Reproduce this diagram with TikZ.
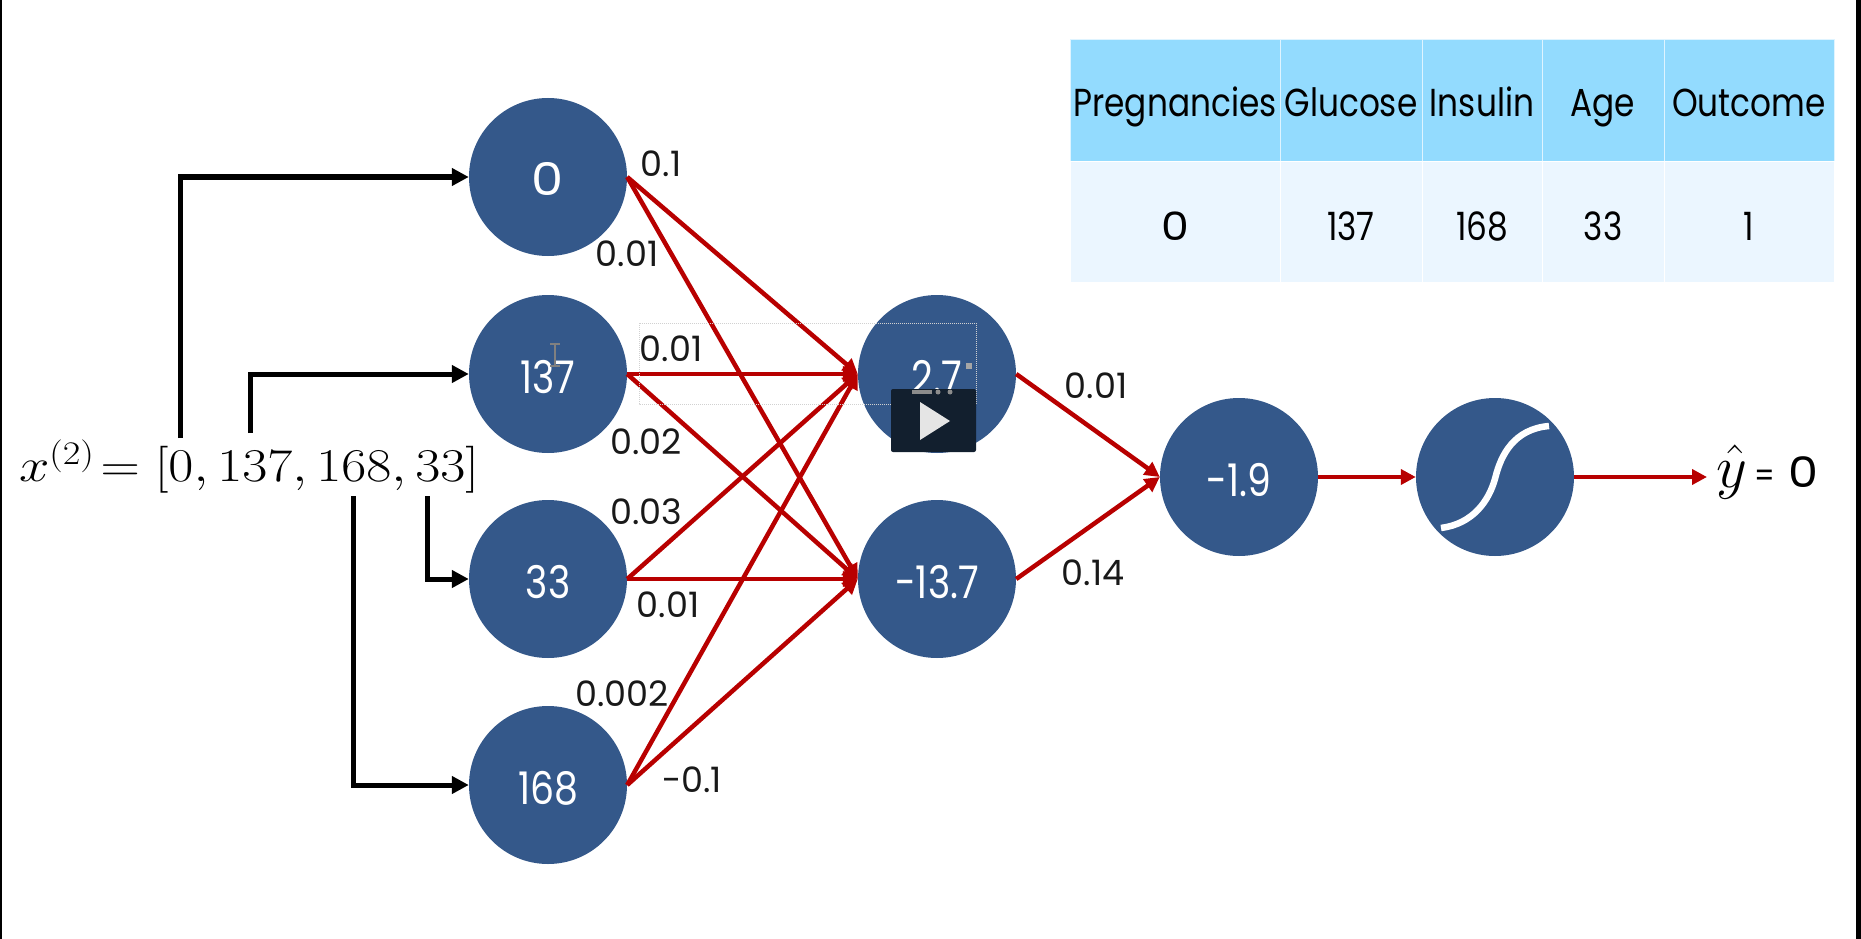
\documentclass[tikz,border=0pt]{standalone}
\usepackage{fix-cm}
\usepackage{fontspec}
\usetikzlibrary{arrows.meta}
\newfontfamily\labelfont[FakeStretch=0.84]{Poppins}
\newfontfamily\weightfont{Poppins}
\newcommand{\wzero}{\scalebox{1.35}[1]{0}}
\definecolor{nodeblue}{HTML}{34588A}
\definecolor{wirered}{HTML}{B80000}
\definecolor{headblue}{HTML}{93DBFE}
\definecolor{bodyblue}{HTML}{EBF6FF}
\definecolor{playdark}{HTML}{121F2E}
\tikzset{
  neuron/.style={circle, fill=nodeblue, text=white, minimum size=158pt, inner sep=0pt,
    text height=38pt, text depth=0pt, font=\labelfont\fontsize{45}{47}\selectfont},
  weight/.style={inner sep=0pt, text=black!90, font=\weightfont\fontsize{35}{37}\selectfont},
  headcell/.style={draw=white!70!headblue, line width=1pt, fill=headblue, minimum height=122pt,
    inner sep=0pt, text height=32pt, text depth=0pt, font=\labelfont\fontsize{39}{41}\selectfont},
  bodycell/.style={draw=white, line width=1pt, fill=bodyblue, minimum height=121pt,
    inner sep=0pt, text height=36pt, text depth=0pt, font=\labelfont\fontsize{39}{41}\selectfont},
  inwire/.style={line width=5pt, -{Triangle[length=17pt,width=17pt]}},
  redwire/.style={draw=wirered, line width=4.5pt, -{Triangle[length=15pt,width=15pt]}, color=wirered},
}

\begin{document}
\begin{tikzpicture}[x=1pt, y=-1pt]
       \useasboundingbox (0,0) rectangle (1861,939);
       \fill[black] (0,0) rectangle (2,939);
       \fill[black] (1856,0) rectangle (1861,939);

       % input values
       \node[inner sep=0pt, font=\fontsize{47}{50}\selectfont] (vec) at (249,467)
          {\scalebox{1.16}[1]{$x^{(2)}\!= [0, 137, 168, 33]$}};
       \coordinate (tap0) at (180,438);
       \coordinate (tap137) at (250,433);
       \coordinate (tap168) at (353,496);
       \coordinate (tap33) at (427,496);

       % neurons
       \node[neuron] (in0) at (548,177) {\wzero};
       \node[neuron] (in137) at (548,374) {137};
       \node[neuron] (in33) at (548,579) {33};
       \node[neuron] (in168) at (548,785) {168};
       \node[neuron] (hid1) at (937,374) {2.7};
       \node[neuron] (hid2) at (937,579) {-13.7};
       \node[neuron] (sum) at (1239,477) {-1.9};
       \node[neuron] (sig) at (1495,477) {};
       \node[inner sep=0pt, anchor=base west, font=\labelfont\fontsize{42}{44}\selectfont] (yhat) at (1716,487)
          {\fontsize{60}{62}\selectfont$\hat{y}$\fontsize{42}{44}\selectfont\,{\fontsize{34}{36}\selectfont =}\,\,\wzero};
       \coordinate (yhatin) at (1707,477);

       % sigmoid
       \draw[white, line width=6.5pt] (1441,528) .. controls (1472,524) and (1489,502) .. (1495.5,477)
          .. controls (1501,455) and (1514,429) .. (1549,426);

       % black inputs
       \draw[inwire] (tap0) |- (in0.west);
       \draw[inwire] (tap137) |- (in137.west);
       \draw[inwire] (tap33) |- (in33.west);
       \draw[inwire] (tap168) |- (in168.west);

       % red wires
       \draw[redwire] (in0.east) -- (hid1.west);
       \draw[redwire] (in0.east) -- (hid2.west);
       \draw[redwire] (in137.east) -- (hid1.west);
       \draw[redwire] (in137.east) -- (hid2.west);
       \draw[redwire] (in33.east) -- (hid1.west);
       \draw[redwire] (in33.east) -- (hid2.west);
       \draw[redwire] (in168.east) -- (hid1.west);
       \draw[redwire] (in168.east) -- (hid2.west);
       \draw[redwire] (hid1.east) -- (sum.west);
       \draw[redwire] (hid2.east) -- (sum.west);
       \draw[redwire] (sum.east) -- (sig.west);
       \draw[redwire] (sig.east) -- (yhatin);

       % weights
       \node[weight] (w1) at (661,164) {0.1};
       \node[weight] (w2) at (627,254) {0.01};
       \node[weight] (w3) at (671,349) {0.01};
       \node[weight] (w4) at (646,442) {0.02};
       \node[weight] (w5) at (646,512) {0.03};
       \node[weight] (w6) at (668,605) {0.01};
       \node[weight] (w7) at (622,694) {0.002};
       \node[weight] (w8) at (692,780) {-0.1};
       \node[weight] (w9) at (1096,386) {0.01};
       \node[weight] (w10) at (1093,573) {0.14};

       % table
       \node[headcell, minimum width=210pt] (hpreg) at (1175,101) {Pregnancies};
       \node[headcell, minimum width=142pt] (hgluc) at (1351,101) {Glucose};
       \node[headcell, minimum width=120pt] (hins) at (1482,101) {Insulin};
       \node[headcell, minimum width=122pt] (hage) at (1603,101) {Age};
       \node[headcell, minimum width=170pt] (hout) at (1749,101) {Outcome};
       \node[bodycell, minimum width=210pt] (vpreg) at (1175,222) {\wzero};
       \node[bodycell, minimum width=142pt] (vgluc) at (1351,222) {137};
       \node[bodycell, minimum width=120pt] (vins) at (1482,222) {168};
       \node[bodycell, minimum width=122pt] (vage) at (1603,222) {33};
       \node[bodycell, minimum width=170pt] (vout) at (1749,222) {1};

       % editor selection and cursor
       \draw[black!18, line width=1pt, densely dotted] (639,323) rectangle (976,404);
       \draw[black!50, line width=2.5pt] (550,344) -- (560,344) (555,344) -- (555,366) (550,366) -- (560,366);
       \fill[black!35] (966,363) rectangle (972,369);

       % video button
       \fill[playdark, rounded corners=2pt] (891,389) rectangle (976,452);
       \fill[white!90!black] (920,402) -- (920,440) -- (950,421) --cycle;
       \fill[black!45] (912,390) rectangle (932,394);
       \fill[black!45] (938,392) circle (2.5pt);
       \fill[black!45] (950,392) circle (2.5pt);
     \end{tikzpicture}
\end{document}
